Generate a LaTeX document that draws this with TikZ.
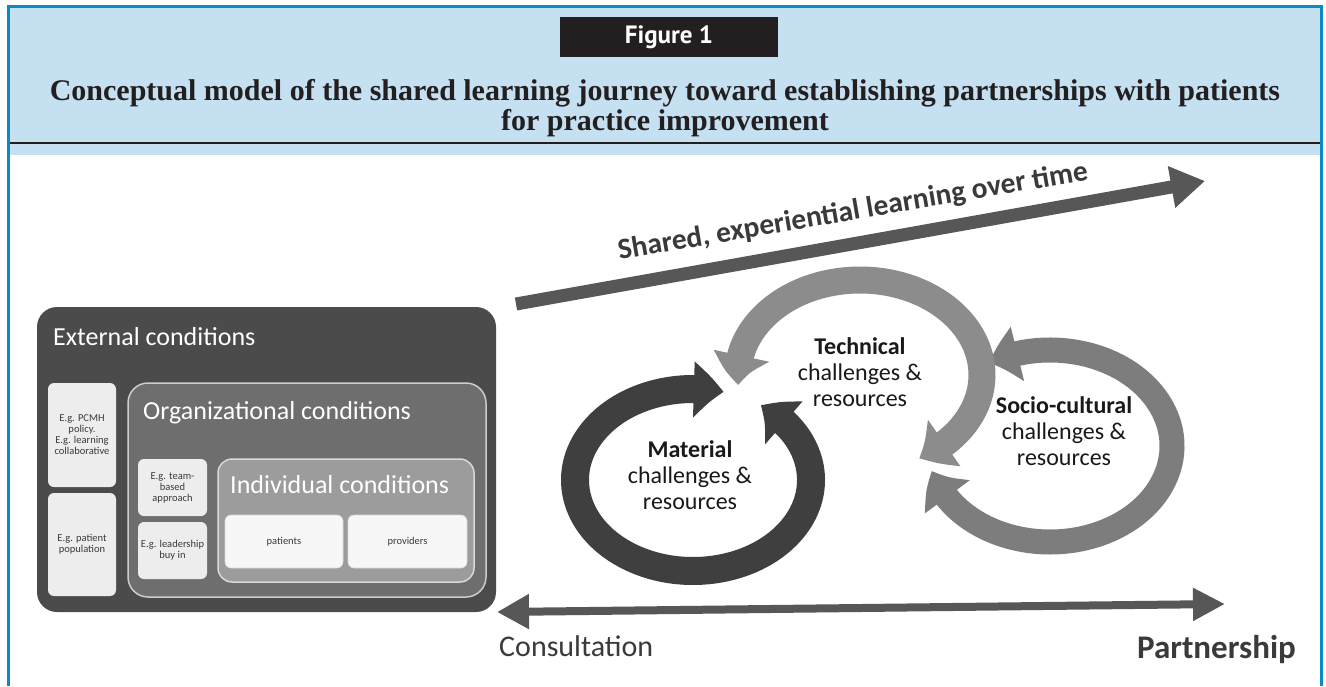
\documentclass[tikz,border=0pt]{standalone}
\usepackage{fontspec}
\setmainfont{Carlito}
\newfontfamily\titleserif{Liberation Serif}
\newfontfamily\figsans{PT Sans}
\usetikzlibrary{arrows.meta,calc,bending}
\definecolor{frameblue}{HTML}{0A8AC4}
\definecolor{headblue}{HTML}{C5E0F1}
\definecolor{figblack}{HTML}{231F20}
\definecolor{extgray}{HTML}{4B4B4B}
\definecolor{orggray}{HTML}{6E6E6E}
\definecolor{indgray}{HTML}{9C9C9C}
\definecolor{smallgray}{HTML}{EDEDED}
\definecolor{matgray}{HTML}{3F3F3F}
\definecolor{techgray}{HTML}{8C8C8C}
\definecolor{sociogray}{HTML}{7D7D7D}
\definecolor{arrowgray}{HTML}{575757}
\definecolor{txtgray}{HTML}{3A3A3A}
\tikzset{
  smallbox/.style={fill=smallgray, rounded corners=6, inner sep=0, align=center,
    font=\fontsize{10.5}{11}\selectfont, text=txtgray},
  whitebox/.style={fill=white!97!black, draw=white!85!black, line width=0.6pt, rounded corners=6,
    inner sep=0, align=center, font=\fontsize{10.5}{11}\selectfont, text=txtgray},
  paneltitle/.style={anchor=base west, inner sep=0, text=white, font=\fontsize{26}{28}\selectfont},
  ringtext/.style={align=center, inner sep=0, text=black!90, font=\fontsize{24}{26}\selectfont},
  ringhead/.tip={Triangle[length=30pt,width=54pt,bend]},
  titletext/.style={anchor=base, inner sep=0, text=figblack, font=\titleserif\bfseries\fontsize{30}{32}\selectfont},
}
\begin{document}
\begin{tikzpicture}[x=1pt,y=-1pt]
\useasboundingbox (0,0) rectangle (1326,686);
\fill[white] (0,0) rectangle (1326,686);
% header
\fill[headblue] (10,8) rectangle (1320,155);
\draw[line width=1.5pt, black!88] (10,143) -- (1320,143);
\draw[frameblue, line width=3pt] (8.5,686) -- (8.5,6.5) -- (1321.5,6.5) -- (1321.5,686);
\node[fill=figblack, minimum width=218, minimum height=40, inner sep=0,
  font=\figsans\bfseries\fontsize{25}{26}\selectfont, text=white] (figlabel) at (669,37) {Figure 1};
\node[titletext] (title1) at (665,100) {Conceptual model of the shared learning journey toward establishing partnerships with patients};
\node[titletext] (title2) at (665,130) {for practice improvement};

% left panel
\node[fill=extgray, rounded corners=20, minimum width=459, minimum height=305, inner sep=0] (ext) at (266.5,459.5) {};
\node[paneltitle] (extlabel) at (53,345) {External conditions};
\node[smallbox, minimum width=68, minimum height=104] (pcmh) at (82,435) {E.g. PCMH\\policy.\\E.g. learning\\collaborative};
\node[smallbox, minimum width=68, minimum height=103] (patpop) at (82,544.5) {E.g. patient\\population};
\node[fill=orggray, draw=white!80!black, line width=1.5pt, rounded corners=20, minimum width=358, minimum height=214, inner sep=0] (org) at (307,490) {};
\node[paneltitle] (orglabel) at (143,419) {Organizational conditions};
\node[smallbox, minimum width=69, minimum height=57] (team) at (172.5,487.5) {E.g. team-\\based\\approach};
\node[smallbox, minimum width=69, minimum height=57] (lead) at (172.5,550.5) {E.g. leadership\\buy in};
\node[fill=indgray, draw=white!85!black, line width=1.5pt, rounded corners=14, minimum width=256, minimum height=123, inner sep=0] (ind) at (346,520.5) {};
\node[paneltitle] (indlabel) at (230,493) {Individual conditions};
\node[whitebox, minimum width=118, minimum height=53] (patients) at (284,541.5) {patients};
\node[whitebox, minimum width=119, minimum height=53] (providers) at (407.5,541.5) {providers};

% shared learning arrow
\coordinate (sharedtail) at (516,304);
\coordinate (sharedtip) at (1205,181);
\draw[arrowgray, line width=13pt, -{Triangle[length=34pt,width=40pt]}] (sharedtail) -- (sharedtip);
\node[rotate=9.7, inner sep=0, text=txtgray, font=\bfseries\fontsize{29.5}{30}\selectfont] (sharedtext) at (853,212) {Shared, experiential learning over time};

% rings
\coordinate (M) at (693,480);
\coordinate (T) at (860,375);
\coordinate (S) at (1050,446);
\coordinate (mstart) at ($(M)+(-55:118 and 91)$);
\coordinate (tstart) at ($(T)+(174:122 and 95)$);
\coordinate (sstart) at ($(S)+(240:122 and 96)$);
\draw[sociogray, line width=25pt, {ringhead}-{ringhead}] (sstart) arc[start angle=240, end angle=525, x radius=122, y radius=96];
\draw[techgray, line width=27pt, {ringhead}-{ringhead}] (tstart) arc[start angle=174, end angle=421, x radius=122, y radius=95];
\draw[matgray, line width=28pt, {ringhead}-{ringhead}] (mstart) arc[start angle=-55, end angle=285, x radius=118, y radius=91];
\node[ringtext] (mattext) at (690,475) {\textbf{Material}\\challenges \&\\resources};
\node[ringtext] (techtext) at (860,372) {\textbf{Technical}\\challenges \&\\resources};
\node[ringtext] (sociotext) at (1064,431) {\textbf{Socio-cultural}\\challenges \&\\resources};

% consultation - partnership arrow
\coordinate (consend) at (497,612);
\coordinate (partend) at (1225,604);
\draw[arrowgray, line width=8pt, {Triangle[length=32pt,width=33pt]}-{Triangle[length=32pt,width=31pt]}] (consend) -- (partend);
\node[anchor=base west, inner sep=0, text=txtgray, font=\fontsize{30}{32}\selectfont] (consult) at (499,656) {Consultation};
\node[anchor=base east, inner sep=0, text=txtgray, font=\bfseries\fontsize{33}{34}\selectfont] (partner) at (1296,658) {Partnership};
\end{tikzpicture}
\end{document}
